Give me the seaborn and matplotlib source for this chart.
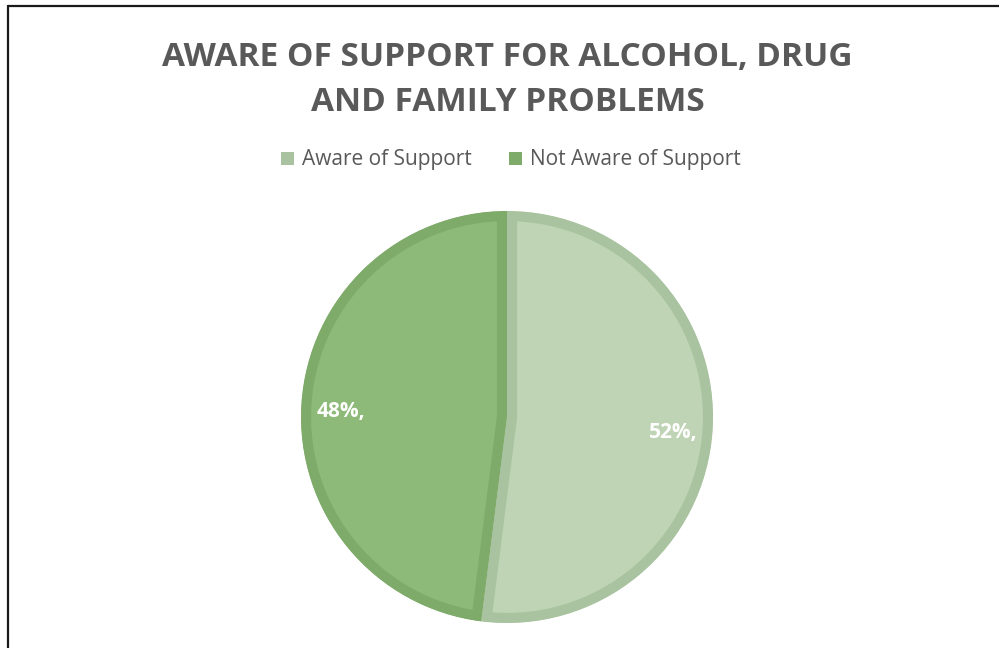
import matplotlib
matplotlib.use("Agg")
import matplotlib.pyplot as plt
from matplotlib.lines import Line2D
from matplotlib.patches import Patch, Wedge
import seaborn as sns

# Survey result
categories = ["Aware of Support", "Not Aware of Support"]
shares = [52, 48]

fill_colors = ["#BFD4B5", "#8EBA79"]
edge_colors = ["#A9C3A0", "#7EAA6A"]
title_color = "#595959"

sns.set_theme(style="white")
plt.rcParams["font.family"] = ["Open Sans", "DejaVu Sans"]

fig = plt.figure(figsize=(9.99, 6.48), dpi=100)
W, H = 999, 648

# Pie axes: centre at (507, 417) px from top-left, radius 206 px
cx, cy, r = 507, 417, 206
ax = fig.add_axes([(cx - r) / W, (H - cy - r) / H, 2 * r / W, 2 * r / H])

wedges, texts, autotexts = ax.pie(
    shares,
    colors=fill_colors,
    startangle=90,
    counterclock=False,
    radius=1.0,
    autopct=lambda p: f"{p:.0f}%,",
    pctdistance=0.81,
    textprops=dict(color="white", fontsize=15, fontweight="bold"),
)
ax.set_xlim(-1, 1)
ax.set_ylim(-1, 1)
ax.set_aspect("equal")
ax.axis("off")

# Value labels sit slightly below the wedge's mid-ray
for t in autotexts:
    x, y = t.get_position()
    t.set_position((x, y - 0.025))

# Inner outline: a wide stroke clipped to a copy of each wedge's outline
for w, ec in zip(wedges, edge_colors):
    w.set_edgecolor(ec)
    w.set_linewidth(14.5)
    shape = Wedge(w.center, w.r, w.theta1, w.theta2, transform=ax.transData)
    w.set_clip_on(True)
    w.set_clip_path(shape)

fig.text(0.508, 1 - 80 / H,
         "AWARE OF SUPPORT FOR ALCOHOL, DRUG\nAND FAMILY PROBLEMS",
         ha="center", va="center", fontsize=24, fontweight="bold",
         color=title_color, linespacing=1.45)

handles = [Patch(facecolor=c, edgecolor="none") for c in edge_colors]
fig.legend(handles, categories, loc="center", bbox_to_anchor=(511 / W, 1 - 160 / H),
           ncol=2, frameon=False, fontsize=15, labelcolor=title_color,
           handlelength=0.6, handleheight=0.6, handletextpad=0.4,
           columnspacing=1.8)

# Chart frame (left and top edges)
fig.add_artist(Line2D([8 / W, 8 / W], [0, 1 - 6 / H], color="#1A1A1A", lw=1.6,
                      transform=fig.transFigure))
fig.add_artist(Line2D([8 / W, 1], [1 - 6 / H, 1 - 6 / H], color="#1A1A1A", lw=1.6,
                      transform=fig.transFigure))

fig.savefig("out.png", dpi=100, facecolor="white")
